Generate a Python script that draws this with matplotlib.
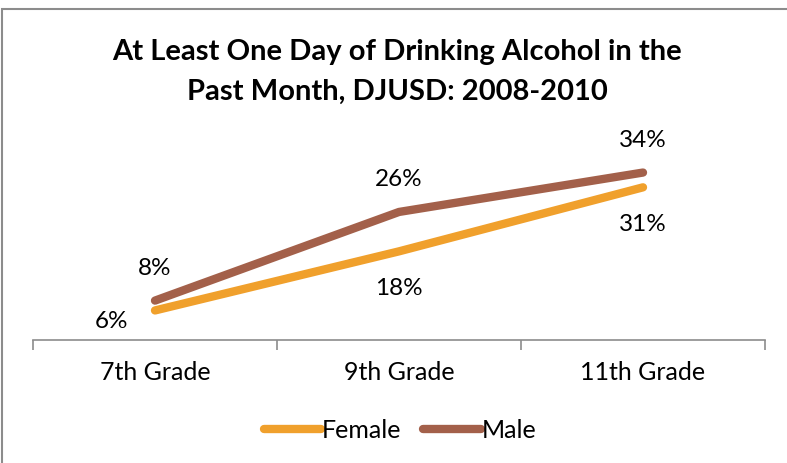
import matplotlib.pyplot as plt
from matplotlib.patches import Rectangle

grades = ['7th Grade', '9th Grade', '11th Grade']
female = [6, 18, 31]
male = [8, 26, 34]
female_labels = ['6%', '18%', '31%']
male_labels = ['8%', '26%', '34%']
title_lines = ['At Least One Day of Drinking Alcohol in the', 'Past Month, DJUSD: 2008-2010']

plt.rcParams['font.family'] = ['Lato', 'DejaVu Sans']

W, H = 787, 463
fig = plt.figure(figsize=(W / 100, H / 100), dpi=100)
ax = fig.add_axes([33 / W, (H - 340) / H, (765 - 33) / W, (340 - 143) / H])

x = [0, 1, 2]
ax.plot(x, female, color='#F0A02C', lw=6, solid_capstyle='round', label='Female')
ax.plot(x, male, color='#A3604A', lw=6, solid_capstyle='round', label='Male')

# data labels (offsets in pixels)
for i, (v, t) in enumerate(zip(male, male_labels)):
    ax.annotate(t, (i, v), xytext=(0, 32), textcoords='offset pixels',
                ha='center', va='center', fontsize=17.5)
for i, (v, t) in enumerate(zip(female, female_labels)):
    dx, dy = (-44, -11) if i == 0 else (0, -37)
    ax.annotate(t, (i, v), xytext=(dx, dy), textcoords='offset pixels',
                ha='center', va='center', fontsize=17.5)

ax.set_xlim(-0.5, 2.5)
ax.set_ylim(0, 40)
ax.set_yticks([])
ax.set_xticks([-0.5, 0.5, 1.5, 2.5])
ax.set_xticks(x, minor=True)
ax.set_xticklabels([])
ax.set_xticklabels(grades, minor=True, fontsize=18)
ax.tick_params(axis='x', which='major', length=7, color='#8C8C8C', width=1.2)
ax.tick_params(axis='x', which='minor', length=0, pad=15)
for s in ['top', 'right', 'left']:
    ax.spines[s].set_visible(False)
ax.spines['bottom'].set_color('#8C8C8C')
ax.spines['bottom'].set_linewidth(1.2)

# title, two lines
for line, ypix in zip(title_lines, [52, 92]):
    fig.text(397 / W, 1 - ypix / H, line, ha='center', va='center',
             fontsize=21, fontweight='bold')

fig.legend(loc='center', bbox_to_anchor=(400 / W, 1 - 430 / H), ncol=2, frameon=False,
           fontsize=18, handlelength=2.3, handletextpad=0.05, columnspacing=0.85)

fig.patches.append(Rectangle((2 / W, -0.1), 1.2, 1 - 9 / H + 0.1, transform=fig.transFigure,
                             fill=False, edgecolor='#8C8C8C', lw=1.5))

fig.savefig('out.png', dpi=100)
